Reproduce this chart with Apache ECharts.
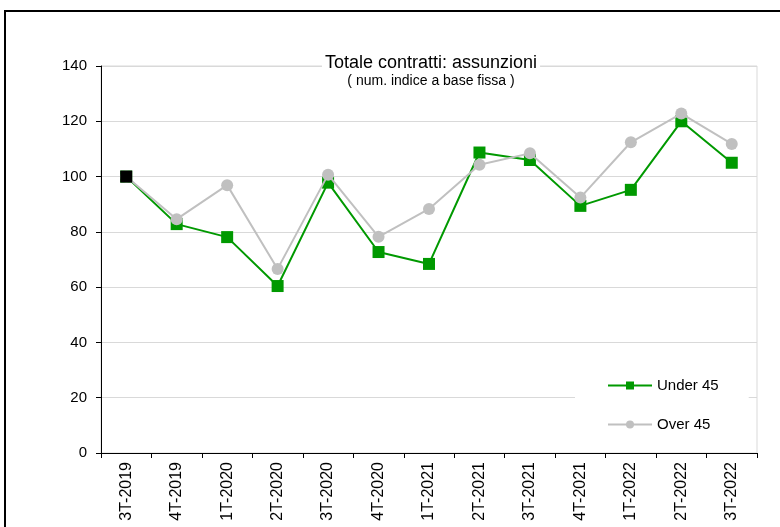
<!DOCTYPE html>
<html>
<head>
<meta charset="utf-8">
<script src="https://cdn.jsdelivr.net/npm/echarts@6/dist/echarts.min.js"></script>
<style>
  html, body { margin: 0; padding: 0; background: #fff; }
  #chart { width: 780px; height: 527px; }
</style>
</head>
<body>
<div id="chart"></div>
<script>
// Quarterly hiring index (base = 3T-2019 = 100)
const quarters = ['3T-2019', '4T-2019', '1T-2020', '2T-2020', '3T-2020', '4T-2020', '1T-2021',
                  '2T-2021', '3T-2021', '4T-2021', '1T-2022', '2T-2022', '3T-2022'];
const under45 = [100, 82.8, 78.1, 60.4, 97.8, 72.7, 68.4, 108.7, 106, 89.4, 95.2, 120, 105];
const over45  = [100, 84.6, 96.9, 66.6, 100.7, 78.2, 88.3, 104.3, 108.4, 92.4, 112.4, 122.8, 111.8];
const yTicks  = { min: 0, max: 140, step: 20 };

const FONT = 'Liberation Sans, Arial, sans-serif';
const chart = echarts.init(document.getElementById('chart'));

// base point: only the first quarter, highlighted in black
const basePoint = under45.map((v, i) => (i === 0 ? v : null));

chart.setOption({
  animation: false,
  textStyle: { fontFamily: FONT, color: '#000' },
  graphic: [{
    type: 'rect',
    shape: { x: 5, y: 11, width: 800, height: 600 },
    style: { fill: 'none', stroke: '#000', lineWidth: 2 },
    z: -10
  }],
  title: {
    text: 'Totale contratti: assunzioni',
    subtext: '( num. indice a base fissa )',
    left: 428,
    top: 54,
    textAlign: 'center',
    backgroundColor: '#fff',
    padding: [0, 3, 0, 3],
    itemGap: 2,
    textStyle: { fontFamily: FONT, fontSize: 18, fontWeight: 'normal', color: '#000' },
    subtextStyle: { fontFamily: FONT, fontSize: 14, color: '#000' },
    z: 10
  },
  legend: {
    orient: 'vertical',
    left: 575,
    top: 366,
    padding: [12, 30, 12, 32],
    backgroundColor: '#fff',
    itemWidth: 44,
    itemHeight: 10,
    itemGap: 24,
    data: ['Under 45', 'Over 45'],
    textStyle: { fontFamily: FONT, fontSize: 15, color: '#000' },
    z: 10
  },
  grid: { left: 101, right: 23, top: 66, bottom: 74, show: true, borderColor: '#d9d9d9', borderWidth: 1 },
  xAxis: {
    type: 'category',
    data: quarters,
    boundaryGap: true,
    axisLine: { lineStyle: { color: '#000', width: 1 } },
    axisTick: { show: true, alignWithLabel: false, length: 5, lineStyle: { color: '#000' } },
    axisLabel: { rotate: 90, fontFamily: FONT, fontSize: 16, color: '#000', margin: 9, interval: 0 },
    splitLine: { show: false }
  },
  yAxis: {
    type: 'value',
    min: yTicks.min,
    max: yTicks.max,
    interval: yTicks.step,
    axisLine: { show: true, lineStyle: { color: '#000', width: 1 } },
    axisTick: { show: true, length: 5, lineStyle: { color: '#000' } },
    axisLabel: { fontFamily: FONT, fontSize: 15, color: '#000', margin: 14 },
    splitLine: { show: true, lineStyle: { color: '#d9d9d9', width: 1 } }
  },
  series: [
    {
      name: 'Under 45',
      type: 'line',
      data: under45,
      symbol: 'rect',
      symbolSize: 12,
      lineStyle: { color: '#009900', width: 2 },
      itemStyle: { color: '#009900' },
      z: 2
    },
    {
      name: 'Over 45',
      type: 'line',
      data: over45,
      symbol: 'circle',
      symbolSize: 12,
      lineStyle: { color: '#c0c0c0', width: 2 },
      itemStyle: { color: '#c0c0c0' },
      z: 3
    },
    {
      name: 'base',
      type: 'line',
      data: basePoint,
      symbol: 'rect',
      symbolSize: 12,
      showSymbol: true,
      lineStyle: { width: 0 },
      itemStyle: { color: '#000' },
      z: 4
    }
  ]
});
</script>
</body>
</html>
